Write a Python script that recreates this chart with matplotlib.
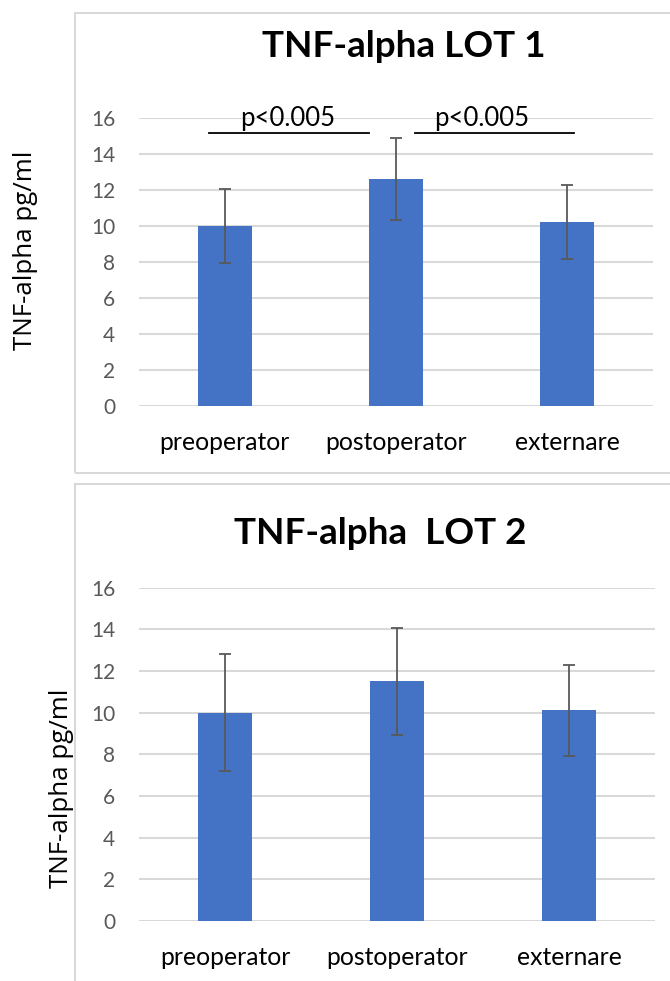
import matplotlib
matplotlib.use("Agg")
import matplotlib.pyplot as plt
from matplotlib.patches import Rectangle

categories = ["preoperator", "postoperator", "externare"]
lot1_values = [10.0, 12.62, 10.2]
lot1_err = [2.05, 2.27, 2.06]
lot2_values = [10.0, 11.5, 10.11]
lot2_err = [2.8, 2.57, 2.18]
yticks = [0, 2, 4, 6, 8, 10, 12, 14, 16]
titles = ["TNF-alpha LOT 1", "TNF-alpha  LOT 2"]
ylabel = "TNF-alpha pg/ml"
sig_label = "p<0.005"

W, H = 670, 981
fig = plt.figure(figsize=(W / 100, H / 100), dpi=100)

BAR = "#4472C4"
GRID = "#D9D9D9"
TICK = "#595959"
FONT = "Lato"

def px_axes(x0, y_top, x1, y_bot):
    return fig.add_axes([x0 / W, 1 - y_bot / H, (x1 - x0) / W, (y_bot - y_top) / H])

# panel frames
fig.patches.append(Rectangle((75 / W, 1 - 472.5 / H), 700 / W, (472.5 - 12.5) / H,
                             transform=fig.transFigure, fill=False, ec=GRID, lw=1.5))
fig.patches.append(Rectangle((75 / W, 1 - 1100 / H), 700 / W, (1100 - 483.5) / H,
                             transform=fig.transFigure, fill=False, ec=GRID, lw=1.5))

def draw(ax, vals, errs):
    x = list(range(len(categories)))
    ax.bar(x, vals, width=0.315, color=BAR, zorder=3)
    ax.errorbar(x, vals, yerr=errs, fmt="none", ecolor=TICK, elinewidth=1.3,
                capsize=4.5, capthick=1.3, zorder=4)
    ax.set_xlim(-0.5, 2.5)
    ax.set_ylim(0, 16)
    ax.set_yticks(yticks)
    ax.set_xticks(x)
    ax.set_xticklabels(categories, fontsize=17.8, family=FONT, color="black")
    ax.set_yticklabels([str(t) for t in yticks], fontsize=15, family=FONT, color=TICK)
    ax.tick_params(axis="both", length=0)
    ax.tick_params(axis="x", pad=18)
    ax.tick_params(axis="y", pad=17)
    ax.grid(axis="y", color=GRID, lw=1.5, zorder=0)
    for s in ax.spines.values():
        s.set_visible(False)
    ax.set_facecolor("none")

ax1 = px_axes(139, 117.7, 653, 406.3)
draw(ax1, lot1_values, lot1_err)
ax2 = px_axes(139, 587.7, 655, 921)
draw(ax2, lot2_values, lot2_err)

# significance bars
for (xa, xb, xt) in [(-0.09, 0.84, 0.37), (1.11, 2.04, 1.50)]:
    ax1.plot([xa, xb], [15.15, 15.15], color="black", lw=1.3, zorder=5, clip_on=False)
    ax1.text(xt, 15.54, sig_label, ha="center", va="baseline", fontsize=18.5,
             family=FONT, color="black")

fig.text(403.5 / W, 1 - 57 / H, titles[0], ha="center", va="baseline",
         fontsize=26.6, fontweight="bold", family=FONT)
fig.text(380 / W, 1 - 544 / H, titles[1], ha="center", va="baseline",
         fontsize=26.6, fontweight="bold", family=FONT)
fig.text(26 / W, 1 - 250 / H, ylabel, rotation=90, ha="center", va="center",
         fontsize=18.6, family="Open Sans")
fig.text(62 / W, 1 - 788 / H, ylabel, rotation=90, ha="center", va="center",
         fontsize=18.6, family="Open Sans")

fig.savefig("out.png", dpi=100)
